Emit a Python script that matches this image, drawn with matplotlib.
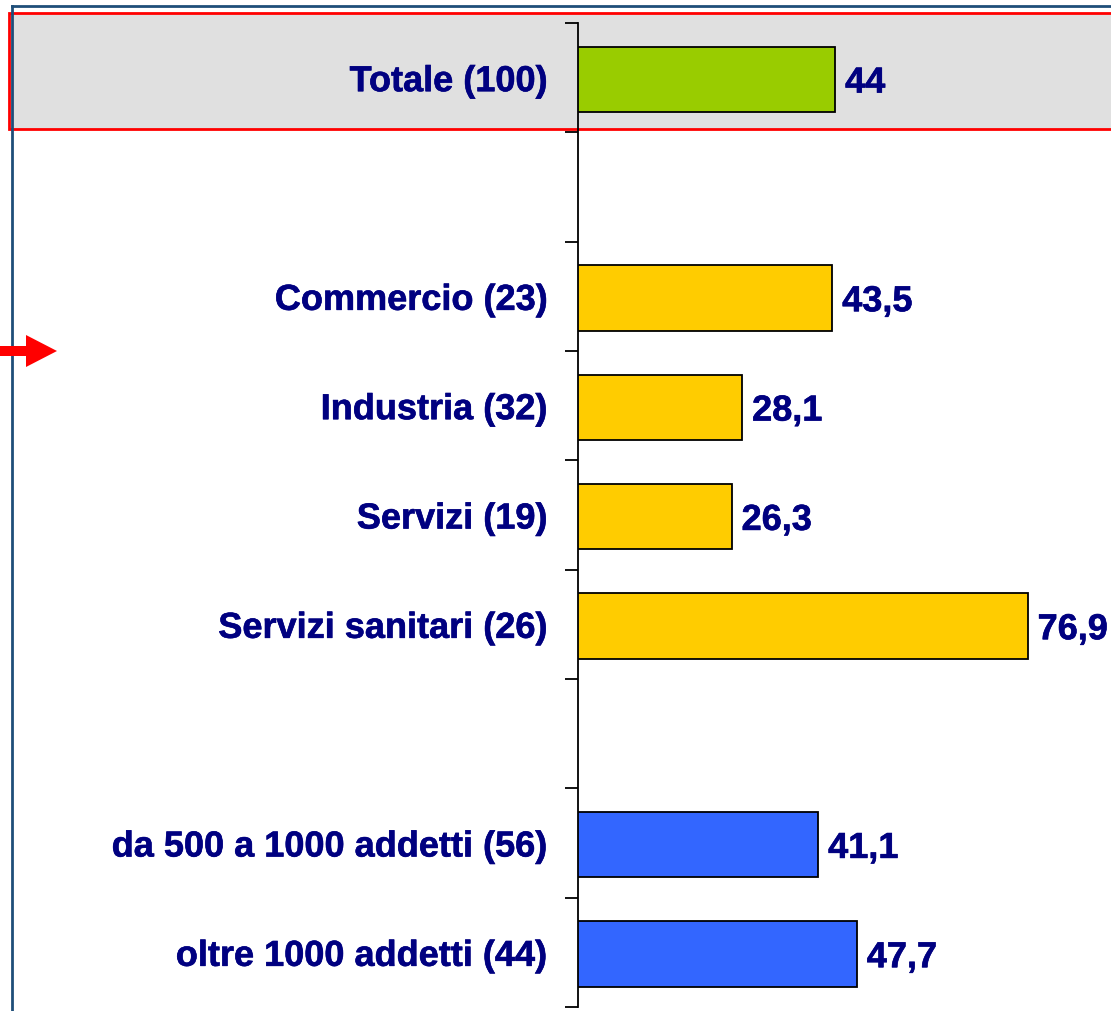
import matplotlib.pyplot as plt
import matplotlib.patheffects as pe
from matplotlib.patches import Rectangle, Polygon
from matplotlib.lines import Line2D

# Data (blank slots are spacers between groups)
labels = ["Totale (100)", "", "Commercio (23)", "Industria (32)", "Servizi (19)",
          "Servizi sanitari (26)", "", "da 500 a 1000 addetti (56)", "oltre 1000 addetti (44)"]
values = [44, None, 43.5, 28.1, 26.3, 76.9, None, 41.1, 47.7]
groups = ["tot", None, "sett", "sett", "sett", "sett", None, "dim", "dim"]
group_colors = {"tot": "#99cc00", "sett": "#ffcc00", "dim": "#3366ff"}

navy = "#000080"
heavy = [pe.withStroke(linewidth=0.45, foreground=navy)]
plt.rcParams["font.family"] = ["Liberation Sans", "DejaVu Sans"]

fig = plt.figure(figsize=(11.11, 10.12), dpi=100)

# highlighted band behind the "Totale" row
fig.patches.append(Rectangle((9 / 1111, 1 - 130 / 1012), 1.0, 116 / 1012,
                             transform=fig.transFigure, facecolor="#e0e0e0",
                             edgecolor="#ff0000", linewidth=2, zorder=0))
# dark frame lines on top and left
fig.lines.append(Line2D([11.5 / 1111, 1.0], [1 - 7 / 1012, 1 - 7 / 1012],
                        transform=fig.transFigure, color="#1f4e79", linewidth=2, zorder=1))
fig.lines.append(Line2D([11.5 / 1111, 11.5 / 1111], [1 - 7 / 1012, 0],
                        transform=fig.transFigure, color="#1f4e79", linewidth=2, zorder=1))
# red arrow on the left
ay = 1 - 352 / 1012
arrow = [(0, ay + 5 / 1012), (26 / 1111, ay + 5 / 1012), (26 / 1111, ay + 16 / 1012),
         (57 / 1111, ay), (26 / 1111, ay - 16 / 1012), (26 / 1111, ay - 5 / 1012), (0, ay - 5 / 1012)]
fig.patches.append(Polygon(arrow, closed=True, transform=fig.transFigure,
                           facecolor="#ff0000", edgecolor="none", zorder=2))

ax = fig.add_axes([578 / 1111, 1 - 1008 / 1012, 1 - 578 / 1111, 984 / 1012])
ax.patch.set_visible(False)
ax.set_zorder(5)

pos = list(range(len(labels)))
for i, (v, g) in enumerate(zip(values, groups)):
    if v is None:
        continue
    ax.barh(i + 0.015, v, height=0.6, color=group_colors[g], edgecolor="black", linewidth=1.3, zorder=3)
    ax.annotate(f"{v:g}".replace(".", ","), xy=(v, i), xytext=(7, -1), textcoords="offset points",
                ha="left", va="center_baseline", fontsize=26, fontweight="bold", color=navy,
                path_effects=heavy)

ax.set_xlim(0, (1111 - 578) / 5.85)
ax.set_ylim(len(labels) - 0.5, -0.5)
ax.set_yticks(pos)
ax.set_yticklabels(labels, fontsize=26, fontweight="bold", color=navy)
for t in ax.get_yticklabels():
    t.set_path_effects(heavy)
ax.set_yticks([p - 0.5 for p in pos] + [len(labels) - 0.5], minor=True)
ax.tick_params(axis="y", which="major", length=0, pad=22)
ax.tick_params(axis="y", which="minor", length=9.5, width=1.3, direction="out")
ax.set_xticks([])
for s in ["top", "right", "bottom"]:
    ax.spines[s].set_visible(False)
ax.spines["left"].set_linewidth(1.3)

plt.savefig("out.png", dpi=100)
